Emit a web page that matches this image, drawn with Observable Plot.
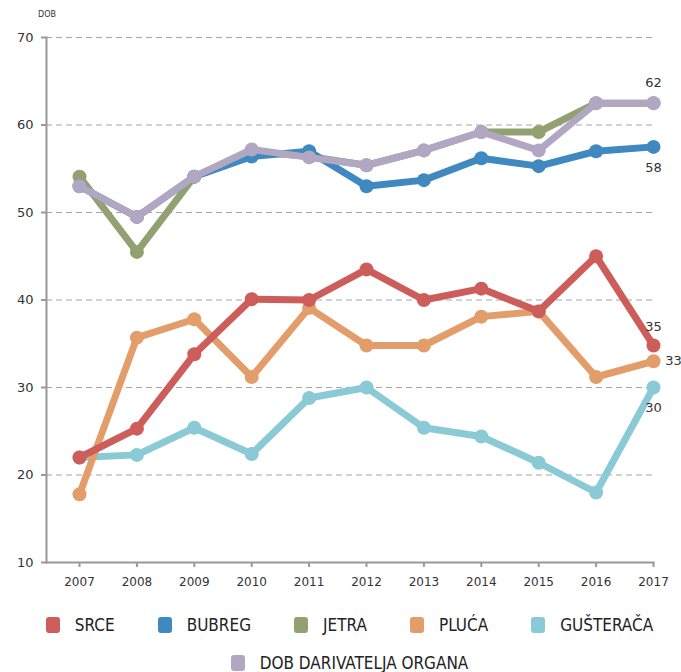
<!DOCTYPE html>
<html>
<head>
<meta charset="utf-8">
<script src="https://cdn.jsdelivr.net/npm/d3@7"></script>
<script src="https://cdn.jsdelivr.net/npm/@observablehq/plot@0.6"></script>
<style>
  body { margin: 0; background: #fff; font-family: "DejaVu Sans", sans-serif; overflow: hidden; }
  #wrap { position: relative; width: 681px; }
  #ylabel { position: absolute; left: 38px; top: 10px; font-size: 8px; color: #333; }
  .legend { display: flex; justify-content: center; align-items: center; gap: 0 43px;
            font-family: "DejaVu Sans Condensed", "DejaVu Sans", sans-serif; font-stretch: condensed;
            font-size: 17px; line-height: 18px; color: #222; padding-left: 18px; }
  .row1 { margin-top: 16px; }
  .row2 { margin-top: 20px; }
  .item { display: flex; align-items: center; }
  .sw { width: 14px; height: 16px; border-radius: 3px; margin-right: 15px; }
</style>
</head>
<body>
<div id="wrap">
  <div id="ylabel">DOB</div>
  <div id="chart"></div>
  <div class="legend row1" id="leg1"></div>
  <div class="legend row2" id="leg2"></div>
</div>
<script>
const years = [2007, 2008, 2009, 2010, 2011, 2012, 2013, 2014, 2015, 2016, 2017];
const seriesNames = ["SRCE", "BUBREG", "JETRA", "PLUĆA", "GUŠTERAČA", "DOB DARIVATELJA ORGANA"];
const colors = ["#cd5d5a", "#3f88c0", "#93a072", "#e39d6a", "#89cad6", "#b2a7c3"];
const srce      = [22.0, 25.3, 33.8, 40.1, 40.0, 43.5, 40.0, 41.3, 38.7, 45.0, 34.8];
const bubreg    = [53.0, 49.5, 54.1, 56.4, 57.0, 53.0, 53.7, 56.2, 55.3, 57.0, 57.5];
const jetra     = [54.1, 45.5, 54.1, 57.0, 56.4, 55.4, 57.1, 59.2, 59.2, 62.5, 62.5];
const pluca     = [17.8, 35.7, 37.8, 31.2, 39.1, 34.8, 34.8, 38.1, 38.7, 31.2, 33.0];
const gusteraca = [22.0, 22.3, 25.4, 22.4, 28.8, 30.0, 25.4, 24.4, 21.4, 18.0, 30.0];
const dob       = [53.0, 49.5, 54.1, 57.2, 56.3, 55.4, 57.1, 59.2, 57.1, 62.5, 62.5];
const yTicks = [10, 20, 30, 40, 50, 60, 70];
const gridTicks = [20, 30, 40, 50, 60, 70];
// end labels: [series index, text, dx, dy]
const endLabels = [
  [5, "62", 0, -20],
  [1, "58", 0, 21],
  [0, "35", 0, -19],
  [3, "33", 20, 0],
  [4, "30", 0, 20]
];

const valuesBySeries = [srce, bubreg, jetra, pluca, gusteraca, dob];
// drawing order (bottom to top)
const drawOrder = [4, 3, 2, 1, 0, 5];
const data = [];
for (const s of drawOrder) {
  years.forEach((y, i) => data.push({year: y, value: valuesBySeries[s][i], series: seriesNames[s], order: s}));
}
const labelData = endLabels.map(([s, t, dx, dy]) => ({year: years[years.length - 1], value: valuesBySeries[s][years.length - 1], text: t, dx, dy}));

const marks = [
  Plot.gridY(gridTicks, {stroke: "#a6a6a6", strokeOpacity: 1, strokeDasharray: "6,4", strokeWidth: 1}),
  Plot.frame({anchor: "left", stroke: "#999", strokeWidth: 2}),
  Plot.frame({anchor: "bottom", stroke: "#999", strokeWidth: 2}),
  Plot.axisY(yTicks, {label: null, tickSize: 5, tickPadding: 8, fontSize: 13, stroke: "#999", strokeWidth: 2, color: "#333"}),
  Plot.axisX(years, {label: null, tickSize: 5, tickPadding: 10, fontSize: 12, tickFormat: d => String(d), stroke: "#999", strokeWidth: 2, color: "#333"})
];
for (const s of drawOrder) {
  const pts = data.filter(d => d.order === s);
  marks.push(Plot.line(pts, {x: "year", y: "value", stroke: colors[s], strokeWidth: 7, strokeLinejoin: "miter"}));
  marks.push(Plot.dot(pts, {x: "year", y: "value", fill: colors[s], r: 7}));
}
for (const l of labelData) {
  marks.push(Plot.text([l], {x: "year", y: "value", text: "text", dx: l.dx, dy: l.dy, fontSize: 13, fill: "#333"}));
}

const chart = Plot.plot({
  width: 681,
  height: 600,
  marginLeft: 46,
  marginRight: 28,
  marginTop: 37,
  marginBottom: 38,
  style: {fontFamily: "DejaVu Sans, sans-serif", background: "#fff", overflow: "visible"},
  x: {type: "linear", domain: [2006.425, 2017], axis: null},
  y: {domain: [10, 70], axis: null},
  marks
});
document.getElementById("chart").appendChild(chart);

function addItem(el, i) {
  const d = document.createElement("div");
  d.className = "item";
  d.innerHTML = `<div class="sw" style="background:${colors[i]}"></div><span>${seriesNames[i]}</span>`;
  el.appendChild(d);
}
[0, 1, 2, 3, 4].forEach(i => addItem(document.getElementById("leg1"), i));
addItem(document.getElementById("leg2"), 5);
</script>
</body>
</html>
